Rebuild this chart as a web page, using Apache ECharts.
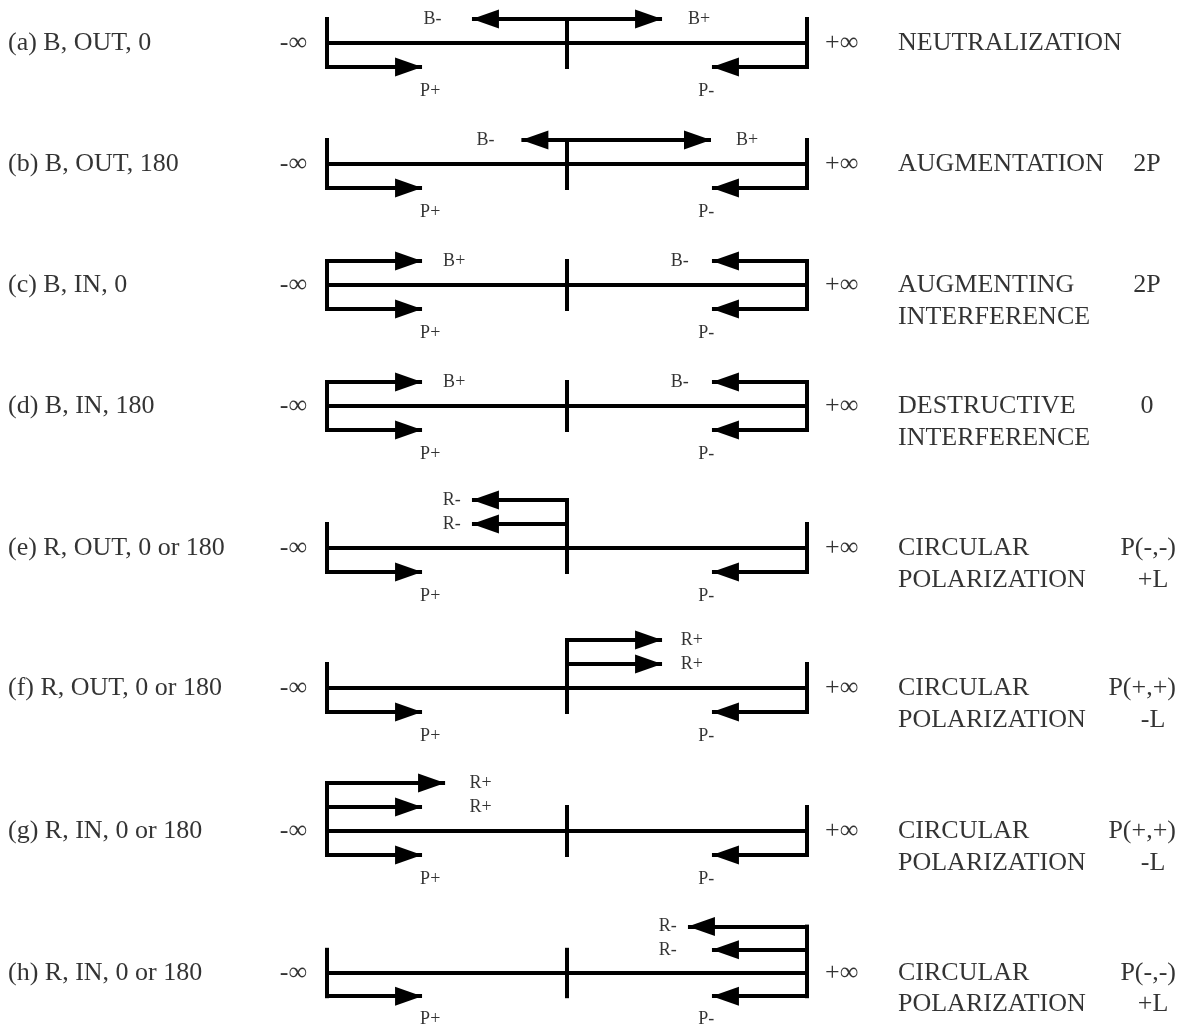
<!DOCTYPE html>
<html>
<head>
<meta charset="utf-8">
<script src="https://cdn.jsdelivr.net/npm/echarts@6/dist/echarts.min.js"></script>
<style>
html, body { margin: 0; padding: 0; background: #fff; }
#chart { width: 1178px; height: 1031px; }
</style>
</head>
<body>
<div id="chart"></div>
<script>
// one row per case
const caseNames = ['(a) B, OUT, 0', '(b) B, OUT, 180', '(c) B, IN, 0', '(d) B, IN, 180',
  '(e) R, OUT, 0 or 180', '(f) R, OUT, 0 or 180', '(g) R, IN, 0 or 180', '(h) R, IN, 0 or 180'];
const effectNames = [['NEUTRALIZATION'], ['AUGMENTATION'], ['AUGMENTING', 'INTERFERENCE'],
  ['DESTRUCTIVE', 'INTERFERENCE'], ['CIRCULAR', 'POLARIZATION'], ['CIRCULAR', 'POLARIZATION'],
  ['CIRCULAR', 'POLARIZATION'], ['CIRCULAR', 'POLARIZATION']];
const results = [[], ['2P'], ['2P'], ['0'], ['P(-,-)', '+L'], ['P(+,+)', '-L'], ['P(+,+)', '-L'], ['P(-,-)', '+L']];
const endLabels = ['-∞', '+∞'];

// arrows above the line: [start, level, tip]
// start -1 = left end, 0 = junction, 1 = right end (line runs -1..1)
const waveArrows = [
  [[0, 1, -0.396], [0, 1, 0.396]],
  [[0, 1, -0.19], [0, 1, 0.6]],
  [[-1, 1, -0.604], [1, 1, 0.604]],
  [[-1, 1, -0.604], [1, 1, 0.604]],
  [[0, 2, -0.396], [0, 1, -0.396]],
  [[0, 2, 0.396], [0, 1, 0.396]],
  [[-1, 2, -0.508], [-1, 1, -0.604]],
  [[1, 2, 0.504], [1, 1, 0.604]]
];
// [text, x, level]
const waveLabels = [
  [['B-', -0.56, 1], ['B+', 0.55, 1]],
  [['B-', -0.34, 1], ['B+', 0.75, 1]],
  [['B+', -0.47, 1], ['B-', 0.47, 1]],
  [['B+', -0.47, 1], ['B-', 0.47, 1]],
  [['R-', -0.48, 2], ['R-', -0.48, 1]],
  [['R+', 0.52, 2], ['R+', 0.52, 1]],
  [['R+', -0.36, 2], ['R+', -0.36, 1]],
  [['R-', 0.42, 2], ['R-', 0.42, 1]]
];
// probe arrows below the line, same in every row
const probeArrows = [[-1, -1, -0.604], [1, -1, 0.604]];
const probeLabels = [['P+', -0.57, -2], ['P-', 0.58, -2]];

const W = 1178, CX = 567, UNIT = 240, LEVEL = 24;
const rowY = [43, 164, 285, 406, 548, 688, 831, 975];
const FONT = '"Liberation Serif", "Times New Roman", serif';
// solid head, tip at the symbol centre
const ARROW = 'path://M0,0 M54,54 M27,27 L36.5,54 L17.5,54 Z';
const toX = px => (px - CX) / UNIT;

const chart = echarts.init(document.getElementById('chart'));
const grid = [], xAxis = [], yAxis = [], series = [];

caseNames.forEach((name, i) => {
  const top = Math.max(0, rowY[i] - 60);
  const yMax = (rowY[i] - top) / LEVEL;
  grid.push({ left: 0, width: W, top: top, height: 120 });
  xAxis.push({ type: 'value', gridIndex: i, min: toX(0), max: toX(W), show: false });
  yAxis.push({ type: 'value', gridIndex: i, min: yMax - 120 / LEVEL, max: yMax, show: false });

  const arrows = probeArrows.concat(waveArrows[i]);
  const frame = [{ coords: [[-1, 0], [1, 0]] }];
  [-1, 0, 1].forEach(s => {
    const barTop = Math.max(1, ...arrows.filter(a => a[0] === s).map(a => a[1]));
    frame.push({ coords: [[s, -1], [s, barTop]] });
  });

  series.push({
    type: 'lines', coordinateSystem: 'cartesian2d', xAxisIndex: i, yAxisIndex: i,
    silent: true, symbol: 'none',
    lineStyle: { color: '#000', width: 4, opacity: 1, cap: 'square' },
    data: frame
  });
  series.push({
    type: 'lines', coordinateSystem: 'cartesian2d', xAxisIndex: i, yAxisIndex: i,
    silent: true, symbol: ['none', ARROW], symbolSize: 54,
    lineStyle: { color: '#000', width: 4, opacity: 1, cap: 'butt' },
    data: arrows.map(a => ({ coords: [[a[0], a[1]], [a[2], a[1]]] }))
  });

  const texts = [];
  const txt = (t, x, y, size, align) =>
    texts.push({ value: [x, y], label: { formatter: t, fontSize: size, align: align } });
  txt(name, toX(8), 0, 26, 'left');
  txt(endLabels[0], toX(307), 0, 26, 'right');
  txt(endLabels[1], toX(825), 0, 26, 'left');
  effectNames[i].forEach((t, k) => txt(t, toX(898), -1.33 * k, 26, 'left'));
  results[i].forEach((t, k) => {
    if (k === 0 && t.length > 2) txt(t, toX(1176), 0, 26, 'right');
    else txt(t, toX(k === 0 ? 1147 : 1153), -1.33 * k, 26, 'center');
  });
  probeLabels.concat(waveLabels[i]).forEach(l => txt(l[0], l[1], l[2], 18, 'center'));

  series.push({
    type: 'scatter', xAxisIndex: i, yAxisIndex: i, silent: true,
    symbolSize: 1, itemStyle: { color: 'rgba(0,0,0,0)' },
    label: { show: true, position: 'inside', color: '#000', fontFamily: FONT, verticalAlign: 'middle' },
    data: texts
  });
});

chart.setOption({
  backgroundColor: '#fff',
  animation: false,
  grid: grid,
  xAxis: xAxis,
  yAxis: yAxis,
  series: series
});
</script>
</body>
</html>
